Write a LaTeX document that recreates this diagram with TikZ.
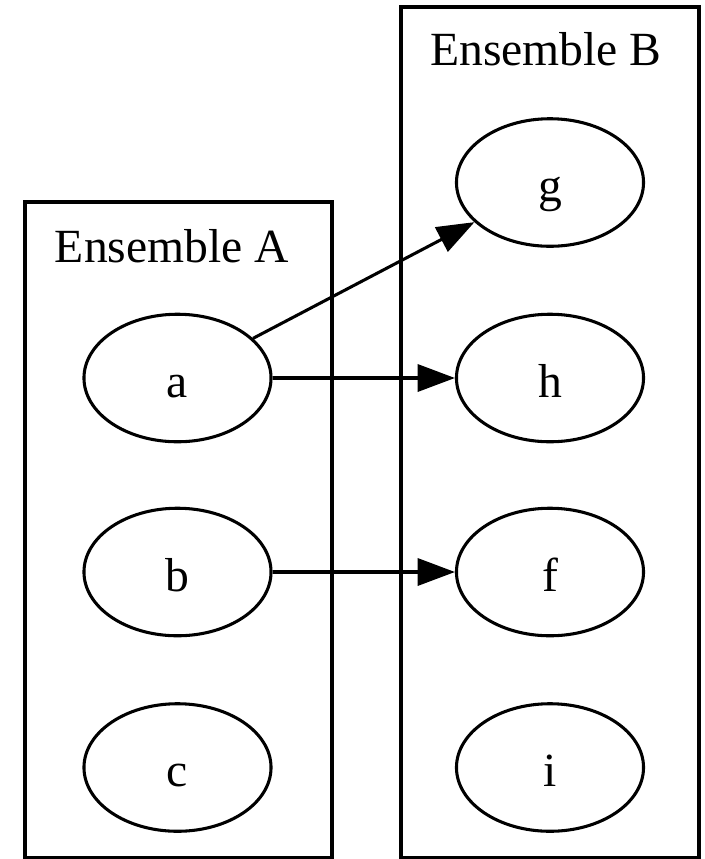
\documentclass[tikz,border=0pt]{standalone}
\usepackage{fontspec}
\setmainfont{Liberation Serif}
\usetikzlibrary{shapes.geometric,arrows.meta}
\begin{document}
\begin{tikzpicture}[x=0.294pt,y=-0.294pt,
  nd/.style={draw, ellipse, line width=0.9pt, minimum width=55pt, minimum height=37.5pt, inner sep=0pt, text height=11.2pt, text depth=0pt, font=\fontsize{14pt}{16pt}\selectfont},
  cl/.style={draw, line width=0.9pt},
  ed/.style={-{Triangle[length=11pt,width=8pt]}, line width=0.9pt},
  lab/.style={anchor=base, inner sep=0pt, font=\fontsize{14pt}{16pt}\selectfont}]
\useasboundingbox (0,0) rectangle (705,859);
% clusters
\draw[cl] (25,202) rectangle (332,858);
\draw[cl] (401,7) rectangle (699,858);
\node[lab] (labA) at (172,262) {Ensemble A};
\node[lab] (labB) at (546,65) {Ensemble B};
% nodes
\node[nd] (a) at (177.5,378) {a};
\node[nd] (b) at (177.5,572) {b};
\node[nd] (c) at (177.5,767.5) {c};
\node[nd] (g) at (550,182.5) {g};
\node[nd] (h) at (550,378) {h};
\node[nd] (f) at (550,572) {f};
\node[nd] (i) at (550,767.5) {i};
% edges
\draw[ed] (a) -- (g);
\draw[ed] (a) -- (h);
\draw[ed] (b) -- (f);
\end{tikzpicture}
\end{document}
